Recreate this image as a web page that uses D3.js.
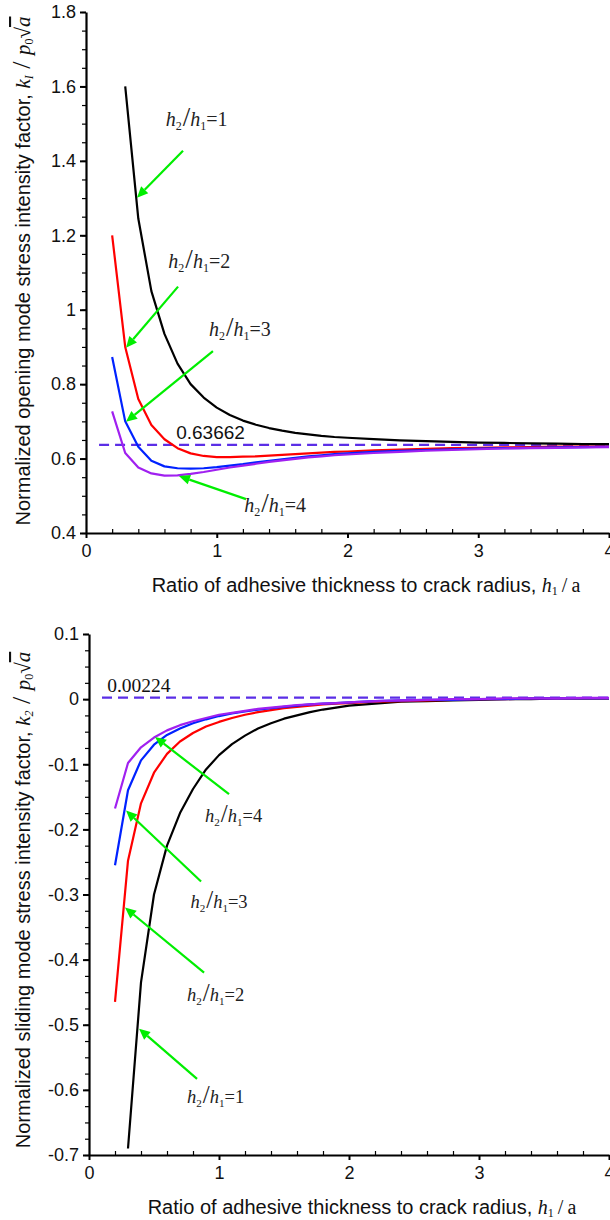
<!DOCTYPE html>
<html>
<head>
<meta charset="utf-8">
<title>Normalized stress intensity factors</title>
<script src="https://cdn.jsdelivr.net/npm/d3@7/dist/d3.min.js"></script>
<style>
  body { margin: 0; background: #fff; }
  svg { display: block; }
  .tick text { font-family: "Liberation Sans", Arial, sans-serif; font-size: 18px; fill: #111; }
</style>
</head>
<body>
<script>

// Ratio of adhesive thickness to crack radius, h1/a (shared by all curves)
var ratios = [0.2, 0.3, 0.4, 0.5, 0.6, 0.7, 0.8, 0.9, 1.0, 1.1, 1.2, 1.3, 1.4, 1.5, 1.6, 1.7, 1.8, 1.9, 2.0,
              2.2, 2.4, 2.6, 2.8, 3.0, 3.2, 3.4, 3.6, 3.8, 4.0];

// Opening mode k1 / p0 sqrt(a), one list per h2/h1
var k1Ratio1 = [null, 1.600, 1.245, 1.050, 0.935, 0.855, 0.800, 0.764, 0.737, 0.717, 0.702, 0.691, 0.682, 0.675, 0.669, 0.665, 0.661, 0.658, 0.656,
                0.652, 0.649, 0.647, 0.645, 0.643, 0.642, 0.641, 0.640, 0.639, 0.639];
var k1Ratio2 = [1.200, 0.900, 0.760, 0.690, 0.652, 0.628, 0.614, 0.607, 0.604, 0.604, 0.605, 0.606, 0.608, 0.610, 0.612, 0.614, 0.616, 0.618, 0.619,
                0.622, 0.624, 0.626, 0.628, 0.629, 0.630, 0.631, 0.632, 0.632, 0.633];
var k1Ratio3 = [0.873, 0.700, 0.632, 0.594, 0.579, 0.574, 0.573, 0.574, 0.577, 0.581, 0.585, 0.590, 0.594, 0.598, 0.602, 0.606, 0.609, 0.612, 0.614,
                0.618, 0.621, 0.623, 0.625, 0.627, 0.628, 0.629, 0.630, 0.631, 0.632];
var k1Ratio4 = [0.727, 0.615, 0.576, 0.560, 0.554, 0.555, 0.559, 0.564, 0.570, 0.576, 0.581, 0.586, 0.591, 0.595, 0.599, 0.603, 0.606, 0.609, 0.611,
                0.615, 0.618, 0.621, 0.623, 0.625, 0.627, 0.628, 0.629, 0.630, 0.631];

// Sliding mode k2 / p0 sqrt(a), one list per h2/h1
var k2Ratio1 = [null, -0.690, -0.435, -0.300, -0.225, -0.175, -0.138, -0.108, -0.086, -0.069, -0.056, -0.045, -0.037, -0.030, -0.025, -0.020, -0.016, -0.013, -0.010,
                -0.007, -0.004, -0.003, -0.002, -0.001, 0.000, 0.000, 0.001, 0.001, 0.001];
var k2Ratio2 = [-0.465, -0.248, -0.160, -0.113, -0.084, -0.065, -0.052, -0.042, -0.035, -0.029, -0.024, -0.020, -0.017, -0.014, -0.012, -0.010, -0.008, -0.007, -0.006,
                -0.004, -0.003, -0.002, -0.001, 0.000, 0.000, 0.001, 0.001, 0.001, 0.001];
var k2Ratio3 = [-0.255, -0.140, -0.094, -0.070, -0.055, -0.045, -0.037, -0.031, -0.026, -0.022, -0.019, -0.016, -0.014, -0.012, -0.010, -0.008, -0.007, -0.006, -0.005,
                -0.003, -0.002, -0.001, -0.001, 0.000, 0.000, 0.001, 0.001, 0.001, 0.001];
var k2Ratio4 = [-0.168, -0.098, -0.074, -0.059, -0.048, -0.040, -0.034, -0.029, -0.024, -0.021, -0.018, -0.015, -0.013, -0.011, -0.009, -0.008, -0.007, -0.006, -0.005,
                -0.003, -0.002, -0.001, 0.000, 0.000, 0.001, 0.001, 0.001, 0.002, 0.002];

// Thickness ratios h2/h1 and the curve colours
var thicknessRatios = [1, 2, 3, 4];
var curveColors = ["#000000", "#ff0000", "#0022ff", "#a020f0"];

// Limits for a very thick adhesive layer
var k1Limit = 0.63662;
var k2Limit = 0.00224;

// Tick values
var xTicks = [0, 1, 2, 3, 4];
var k1Ticks = [0.4, 0.6, 0.8, 1, 1.2, 1.4, 1.6, 1.8];
var k2Ticks = [0.1, 0, -0.1, -0.2, -0.3, -0.4, -0.5, -0.6, -0.7];

// Arrow annotations: [label x, label y, tail x, tail y, head x, head y] in data units
var k1Arrows = [
  [0.61, 1.495, 0.742, 1.427, 0.39, 1.301],
  [0.63, 1.113, 0.704, 1.062, 0.306, 0.898],
  [0.94, 0.930, 0.971, 0.889, 0.306, 0.699],
  [1.21, 0.456, 1.224, 0.491, 0.711, 0.553]
];
var k2Arrows = [
  [0.754, -0.620, 0.831, -0.583, 0.385, -0.506],
  [0.754, -0.463, 0.885, -0.420, 0.277, -0.320],
  [0.780, -0.320, 0.862, -0.280, 0.285, -0.171],
  [0.892, -0.189, 1.077, -0.146, 0.508, -0.058]
];

window.onload = function() {
  var svg = d3.select("body").append("svg")
    .attr("width", 610).attr("height", 1220);

  // Opening mode chart
  drawChart(svg, {
    left: 86, right: 609, top: 12, bottom: 533,
    yDomain: [0.4, 1.8], yTicks: k1Ticks, yMinorStep: 0.05,
    series: [k1Ratio1, k1Ratio2, k1Ratio3, k1Ratio4],
    limit: k1Limit, limitLabel: "0.63662", limitLabelX: 0.69, limitSerif: false,
    arrows: k1Arrows, labelSize: 20, titleY: 271, subscript: "I", xTitleX: 366
  });

  // Sliding mode chart
  drawChart(svg, {
    left: 89, right: 609, top: 634, bottom: 1155,
    yDomain: [-0.7, 0.1], yTicks: k2Ticks, yMinorStep: 0.025,
    series: [k2Ratio1, k2Ratio2, k2Ratio3, k2Ratio4],
    limit: k2Limit, limitLabel: "0.00224", limitLabelX: 0.14, limitSerif: true,
    arrows: k2Arrows, labelSize: 18.5, titleY: 900, subscript: "2", xTitleX: 362
  });
};

function drawChart(svg, cfg) {
  var x = d3.scaleLinear().domain([0, 4]).range([cfg.left, cfg.right]);
  var y = d3.scaleLinear().domain(cfg.yDomain).range([cfg.bottom, cfg.top]);
  var g = svg.append("g");
  var serif = "Liberation Serif, serif";
  var sans = "Liberation Sans, Arial, sans-serif";

  // Minor ticks
  var xMinor = d3.range(0, 4.001, 0.2).filter(function(d) { return Math.abs(d - Math.round(d)) > 1e-6; });
  g.append("g").attr("transform", "translate(0," + cfg.bottom + ")")
    .call(d3.axisBottom(x).tickValues(xMinor).tickSize(-4).tickFormat(""))
    .call(function(a) { a.select(".domain").remove(); a.selectAll("line").attr("stroke-width", 1.2); });
  var yMinor = d3.range(cfg.yDomain[0], cfg.yDomain[1] + 1e-6, cfg.yMinorStep);
  g.append("g").attr("transform", "translate(" + cfg.left + ",0)")
    .call(d3.axisLeft(y).tickValues(yMinor).tickSize(4).tickFormat(""))
    .call(function(a) { a.select(".domain").remove(); a.selectAll("line").attr("stroke-width", 1.2); });

  // Major axes
  g.append("g").attr("transform", "translate(0," + cfg.bottom + ")")
    .call(d3.axisBottom(x).tickValues(xTicks).tickSize(5).tickSizeOuter(0).tickPadding(6).tickFormat(d3.format("d")))
    .call(function(a) {
      a.select(".domain").attr("stroke-width", 2.2);
      a.selectAll("line").attr("stroke-width", 2);
    });
  g.append("g").attr("transform", "translate(" + cfg.left + ",0)")
    .call(d3.axisLeft(y).tickValues(cfg.yTicks).tickSize(6).tickSizeOuter(0).tickPadding(4)
      .tickFormat(function(d) { return String(+d.toFixed(1)); }))
    .call(function(a) {
      a.select(".domain").attr("stroke-width", 2.2);
      a.selectAll("line").attr("stroke-width", 2);
    });

  // Limit for thick adhesive
  g.append("line")
    .attr("x1", x(0.1)).attr("x2", x(4))
    .attr("y1", y(cfg.limit)).attr("y2", y(cfg.limit))
    .attr("stroke", "#5b2ee6").attr("stroke-width", 2.2)
    .attr("stroke-dasharray", "10,6");
  g.append("text")
    .attr("x", x(cfg.limitLabelX)).attr("y", y(cfg.limit) - 6)
    .attr("font-family", cfg.limitSerif ? serif : sans)
    .attr("font-size", cfg.limitSerif ? 19.5 : 19).attr("fill", "#111")
    .text(cfg.limitLabel);

  // Curves
  var line = d3.line()
    .defined(function(d) { return d[1] !== null; })
    .x(function(d) { return x(d[0]); })
    .y(function(d) { return y(d[1]); });
  cfg.series.forEach(function(values, i) {
    g.append("path")
      .datum(ratios.map(function(r, j) { return [r, values[j]]; }))
      .attr("fill", "none").attr("stroke", curveColors[i])
      .attr("stroke-width", 2.2).attr("stroke-linejoin", "round")
      .attr("d", line);
  });

  // Green arrows with h2/h1 labels
  cfg.arrows.forEach(function(a, i) {
    var x1 = x(a[2]), y1 = y(a[3]), x2 = x(a[4]), y2 = y(a[5]);
    var ang = Math.atan2(y2 - y1, x2 - x1);
    var len = 11, wid = 5;
    var bx = x2 - len * Math.cos(ang), by = y2 - len * Math.sin(ang);
    g.append("line")
      .attr("x1", x1).attr("y1", y1).attr("x2", bx).attr("y2", by)
      .attr("stroke", "#00ee00").attr("stroke-width", 2.2);
    g.append("polygon")
      .attr("points", [
        [x2, y2],
        [bx + wid * Math.sin(ang), by - wid * Math.cos(ang)],
        [bx - wid * Math.sin(ang), by + wid * Math.cos(ang)]
      ].map(function(p) { return p.join(","); }).join(" "))
      .attr("fill", "#00ee00");
    ratioLabel(g, x(a[0]), y(a[1]), thicknessRatios[i], cfg.labelSize);
  });

  // X axis title
  var xt = g.append("text")
    .attr("x", cfg.xTitleX).attr("y", cfg.bottom + 59)
    .attr("text-anchor", "middle")
    .attr("font-family", sans)
    .attr("font-size", 20).attr("fill", "#111");
  xt.append("tspan").text("Ratio of adhesive thickness to crack radius, ");
  xt.append("tspan").attr("font-family", serif).attr("font-style", "italic").attr("font-size", 20).text("h");
  xt.append("tspan").attr("font-family", serif).attr("font-size", 12).attr("dy", 3).text("1");
  xt.append("tspan").attr("font-family", serif).attr("font-size", 20).attr("dy", -3).text("\u2009/\u2009a");

  // Y axis title
  var yt = g.append("text")
    .attr("transform", "translate(30," + cfg.titleY + ") rotate(-90)")
    .attr("text-anchor", "middle")
    .attr("font-family", sans)
    .attr("font-size", 20).attr("fill", "#111");
  yt.append("tspan").text(cfg.subscript === "I"
    ? "Normalized opening mode stress intensity factor, "
    : "Normalized sliding mode stress intensity factor, ");
  yt.append("tspan").attr("font-family", serif).attr("font-style", "italic").attr("font-size", 21).text("k");
  yt.append("tspan").attr("font-family", serif).attr("font-style", "italic").attr("font-size", 12).attr("dy", 3).text(cfg.subscript);
  yt.append("tspan").attr("font-family", serif).attr("font-size", 26).attr("dy", -3).text(" / ");
  yt.append("tspan").attr("font-family", serif).attr("font-style", "italic").attr("font-size", 21).text("p");
  yt.append("tspan").attr("font-family", serif).attr("font-size", 12).attr("dy", 3).text("0");
  yt.append("tspan").attr("font-family", serif).attr("font-size", 21).attr("dy", -3).text("\u221A");
  yt.append("tspan").attr("font-family", serif).attr("font-style", "italic").attr("font-size", 21)
    .style("text-decoration", "overline").text("a");
}

// Writes a label like h2/h1=1
function ratioLabel(g, px, py, value, size) {
  var t = g.append("text").attr("x", px).attr("y", py)
    .attr("font-family", "Liberation Serif, serif").attr("font-size", size).attr("fill", "#222");
  t.append("tspan").attr("font-style", "italic").text("h");
  t.append("tspan").attr("font-size", size * 0.6).attr("dy", 4).text("2");
  t.append("tspan").attr("font-size", size * 1.35).attr("dy", -4).attr("dx", 1).text("/");
  t.append("tspan").attr("font-style", "italic").text("h");
  t.append("tspan").attr("font-size", size * 0.6).attr("dy", 4).text("1");
  t.append("tspan").attr("dy", -4).text("=" + value);
}
</script>
</body>
</html>
